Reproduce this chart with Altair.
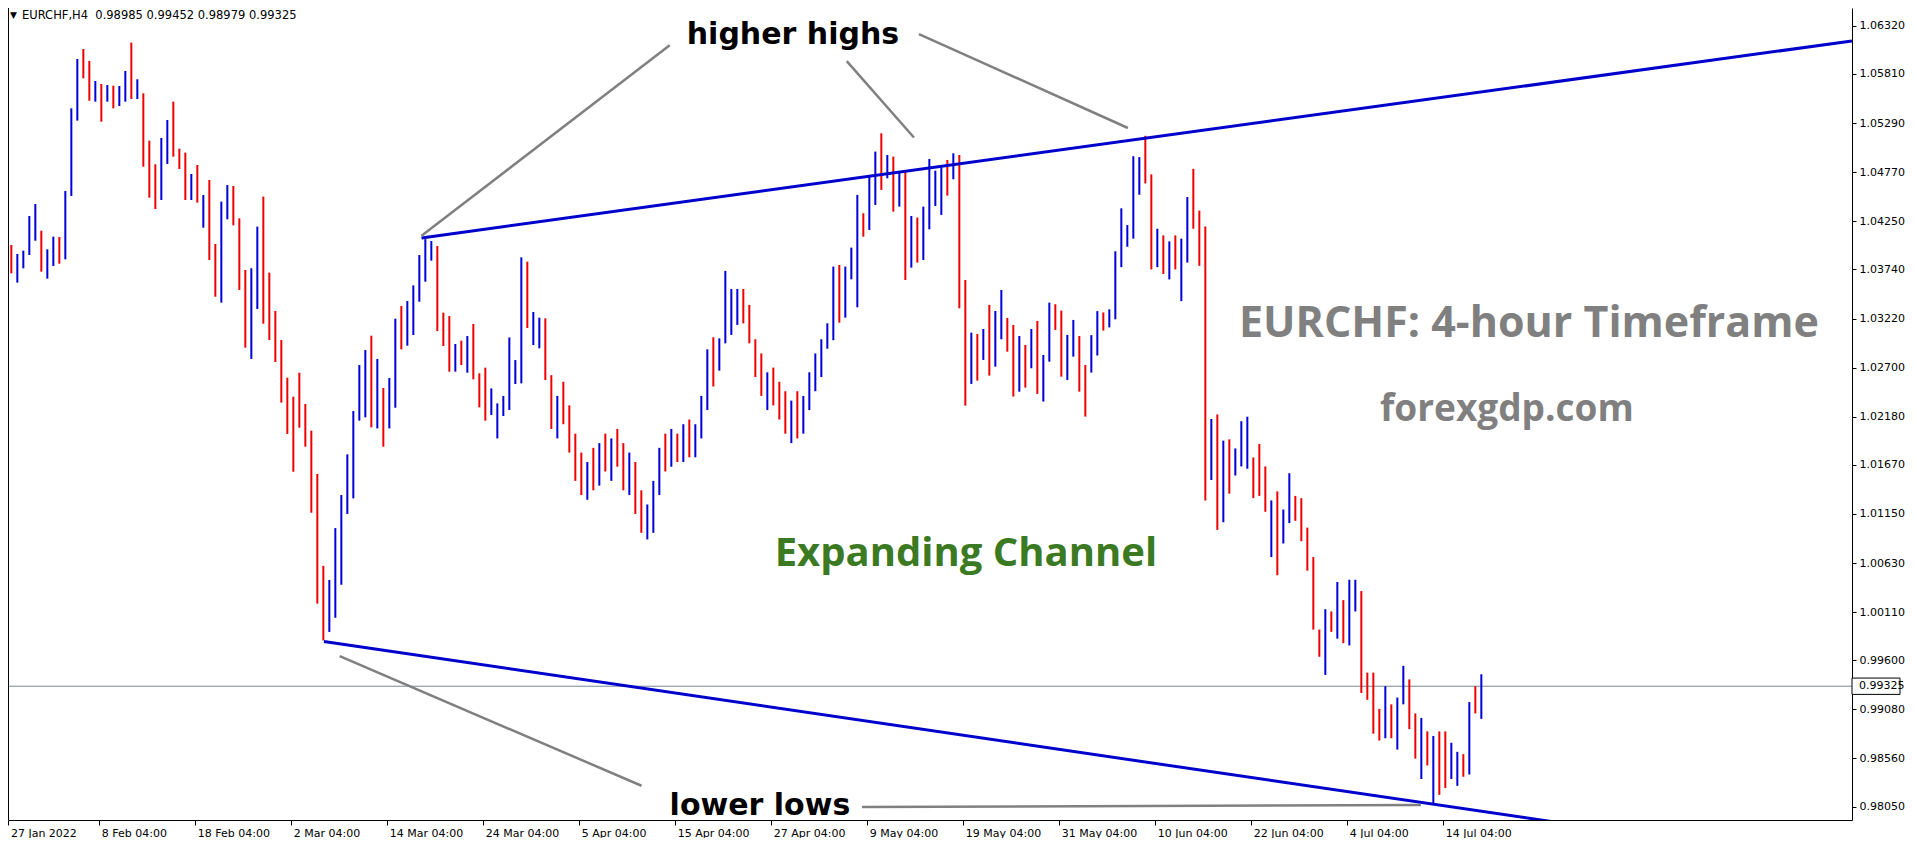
import altair as alt
import numpy as np
import pandas as pd

# ---------------- data (12-hour bars) ----------------
FIRST_OPEN = 1.03840

HIGH = [
    1.03963, 1.03999, 1.03903, 1.03939, 1.04306, 1.04433, 1.04150, 1.03953, 1.04087, 1.04083,
    1.04571, 1.05446, 1.05969, 1.06075, 1.05948, 1.05736, 1.05704, 1.05693, 1.05686, 1.05683,
    1.05842, 1.06142, 1.05754, 1.05605, 1.05104, 1.04853, 1.05132, 1.05323, 1.05517, 1.05019,
    1.04977, 1.04751, 1.04846, 1.04528, 1.04687, 1.04009, 1.04458, 1.04634, 1.04624, 1.04281,
    1.03734, 1.03752, 1.04193, 1.04511, 1.03706, 1.03300, 1.02992, 1.02593, 1.02392, 1.02646,
    1.02315, 1.02032, 1.01573, 1.00600, 1.00450, 1.01000, 1.01350, 1.01781, 1.02240, 1.02727,
    1.02886, 1.03038, 1.02791, 1.02484, 1.02590, 1.03218, 1.03352, 1.03405, 1.03571, 1.03892,
    1.04060, 1.04041, 1.03988, 1.03282, 1.03246, 1.02950, 1.02985, 1.03034, 1.03162, 1.02639,
    1.02699, 1.02480, 1.02321, 1.02399, 1.03020, 1.02780, 1.03868, 1.03822, 1.03289, 1.03229,
    1.03222, 1.02620, 1.02400, 1.02550, 1.02300, 1.02000, 1.01800, 1.01700, 1.01850, 1.01900,
    1.02000, 1.01950, 1.02050, 1.01900, 1.01800, 1.01700, 1.01400, 1.01250, 1.01500, 1.01850,
    1.02000, 1.02050, 1.02000, 1.02100, 1.02150, 1.02100, 1.02400, 1.02894, 1.03021, 1.03010,
    1.03724, 1.03533, 1.03533, 1.03533, 1.03364, 1.03000, 1.02850, 1.02650, 1.02700, 1.02550,
    1.02450, 1.02350, 1.02450, 1.02400, 1.02650, 1.02850, 1.03000, 1.03169, 1.03770, 1.03787,
    1.03770, 1.03971, 1.04529, 1.04335, 1.04741, 1.04988, 1.05182, 1.04952, 1.04935, 1.04765,
    1.04776, 1.04306, 1.04289, 1.04405, 1.04910, 1.04786, 1.04822, 1.04899, 1.04970, 1.04952,
    1.03628, 1.03070, 1.03056, 1.03109, 1.03364, 1.03300, 1.03522, 1.03226, 1.03152, 1.03035,
    1.02940, 1.03109, 1.03194, 1.02834, 1.03388, 1.03371, 1.03304, 1.03046, 1.03205, 1.03035,
    1.02728, 1.03044, 1.03298, 1.03284, 1.03317, 1.03932, 1.04387, 1.04210, 1.04939, 1.04930,
    1.05155, 1.04747, 1.04171, 1.04100, 1.04037, 1.04100, 1.04066, 1.04507, 1.04805, 1.04363,
    1.04195, 1.02156, 1.02204, 1.01926, 1.01940, 1.01844, 1.02132, 1.02180, 1.01748, 1.01892,
    1.01653, 1.01293, 1.01389, 1.01197, 1.01581, 1.01341, 1.01317, 1.01005, 1.00693, 0.99925,
    1.00141, 1.00117, 1.00429, 1.00237, 1.00453, 1.00453, 1.00333, 0.99469, 0.99469, 0.99085,
    0.99325, 0.99133, 0.99205, 0.99541, 0.99397, 0.99037, 0.98989, 0.98846, 0.98798, 0.98846,
    0.98846, 0.98726, 0.98630, 0.98606, 0.99157, 0.99325, 0.99452,
]

LOW = [
    1.03698, 1.03698, 1.03600, 1.03751, 1.03893, 1.04044, 1.03716, 1.03642, 1.03776, 1.03801,
    1.03847, 1.04518, 1.05316, 1.05764, 1.05527, 1.05517, 1.05305, 1.05517, 1.05446, 1.05471,
    1.05517, 1.05545, 1.05545, 1.04828, 1.04500, 1.04380, 1.04475, 1.04857, 1.04934, 1.04804,
    1.04475, 1.04475, 1.04447, 1.04182, 1.03840, 1.03451, 1.03388, 1.04271, 1.04207, 1.03522,
    1.02911, 1.02791, 1.03321, 1.03165, 1.02992, 1.02759, 1.02329, 1.01997, 1.01597, 1.02064,
    1.01862, 1.01163, 1.00200, 0.99810, 0.99900, 1.00050, 1.00400, 1.01149, 1.01315, 1.02138,
    1.02173, 1.02067, 1.02056, 1.01862, 1.02056, 1.02275, 1.02893, 1.02932, 1.03045, 1.03398,
    1.03610, 1.03833, 1.03087, 1.02929, 1.02657, 1.02657, 1.02727, 1.02646, 1.02576, 1.02279,
    1.02138, 1.02198, 1.01950, 1.02187, 1.02251, 1.02526, 1.02533, 1.03119, 1.02939, 1.02904,
    1.02568, 1.02050, 1.01950, 1.02100, 1.01800, 1.01500, 1.01350, 1.01300, 1.01400, 1.01450,
    1.01600, 1.01500, 1.01650, 1.01400, 1.01350, 1.01150, 1.00950, 1.00880, 1.00950, 1.01350,
    1.01600, 1.01650, 1.01700, 1.01700, 1.01750, 1.01750, 1.01950, 1.02250, 1.02500, 1.02668,
    1.02957, 1.03046, 1.03152, 1.03169, 1.02957, 1.02600, 1.02400, 1.02250, 1.02300, 1.02150,
    1.02000, 1.01900, 1.01950, 1.02000, 1.02250, 1.02450, 1.02600, 1.02900, 1.02990, 1.03176,
    1.03229, 1.03635, 1.03339, 1.04087, 1.04158, 1.04423, 1.04582, 1.04705, 1.04352, 1.04405,
    1.03628, 1.03759, 1.03812, 1.03840, 1.04165, 1.04412, 1.04317, 1.04522, 1.04695, 1.03328,
    1.02297, 1.02527, 1.02562, 1.02781, 1.02615, 1.02710, 1.03000, 1.02869, 1.02393, 1.02445,
    1.02488, 1.02693, 1.02421, 1.02340, 1.02763, 1.03099, 1.02604, 1.02569, 1.02816, 1.02445,
    1.02181, 1.02647, 1.02828, 1.03092, 1.03126, 1.03212, 1.03764, 1.03980, 1.04066, 1.04531,
    1.04651, 1.03740, 1.03764, 1.03692, 1.03634, 1.03740, 1.03404, 1.03812, 1.04171, 1.03778,
    1.01293, 1.01509, 1.00981, 1.01062, 1.01365, 1.01557, 1.01653, 1.01629, 1.01317, 1.01341,
    1.01173, 1.00693, 1.00501, 1.00837, 1.01053, 1.01077, 1.00861, 1.00549, 0.99925, 0.99637,
    0.99445, 0.99901, 0.99829, 0.99781, 0.99757, 1.00117, 0.99253, 0.99181, 0.98822, 0.98750,
    0.98774, 0.98774, 0.98654, 0.99133, 0.98870, 0.98558, 0.98342, 0.98486, 0.98078, 0.98174,
    0.98246, 0.98342, 0.98270, 0.98366, 0.98390, 0.99037, 0.98979,
]

CLOSE = [
    1.03939, 1.03811, 1.03882, 1.03893, 1.04052, 1.04069, 1.03741, 1.03857, 1.04069, 1.03910,
    1.04546, 1.05358, 1.05951, 1.05888, 1.05542, 1.05718, 1.05517, 1.05683, 1.05482, 1.05605,
    1.05824, 1.05563, 1.05570, 1.05139, 1.04881, 1.04440, 1.04811, 1.05146, 1.04952, 1.04811,
    1.04511, 1.04723, 1.04475, 1.04511, 1.03875, 1.03699, 1.04422, 1.04422, 1.04246, 1.03557,
    1.03010, 1.03646, 1.04158, 1.03787, 1.03010, 1.02975, 1.02357, 1.02322, 1.02215, 1.02198,
    1.02057, 1.01580, 1.00350, 1.00000, 1.00300, 1.00600, 1.01300, 1.01509, 1.02215, 1.02410,
    1.02851, 1.02357, 1.02763, 1.02074, 1.02304, 1.03186, 1.03098, 1.03222, 1.03550, 1.03875,
    1.03998, 1.03998, 1.03116, 1.03063, 1.02674, 1.02939, 1.02869, 1.03020, 1.02604, 1.02533,
    1.02162, 1.02216, 1.02216, 1.02216, 1.02427, 1.02551, 1.03840, 1.03133, 1.03133, 1.03162,
    1.02586, 1.02150, 1.02300, 1.02200, 1.01900, 1.01600, 1.01450, 1.01650, 1.01500, 1.01800,
    1.01700, 1.01850, 1.01750, 1.01500, 1.01650, 1.01250, 1.01050, 1.01150, 1.01400, 1.01750,
    1.01700, 1.01950, 1.01800, 1.02000, 1.01850, 1.02050, 1.02350, 1.02887, 1.02604, 1.02993,
    1.03311, 1.03434, 1.03452, 1.03205, 1.02993, 1.02700, 1.02500, 1.02550, 1.02400, 1.02250,
    1.02100, 1.02250, 1.02050, 1.02350, 1.02550, 1.02750, 1.02950, 1.02980, 1.03752, 1.03480,
    1.03523, 1.03957, 1.04511, 1.04264, 1.04723, 1.04952, 1.04600, 1.04935, 1.04370, 1.04716,
    1.03646, 1.04052, 1.03823, 1.04388, 1.04688, 1.04705, 1.04794, 1.04758, 1.04952, 1.03522,
    1.02887, 1.02975, 1.02675, 1.03099, 1.02640, 1.03169, 1.03505, 1.03046, 1.02428, 1.03021,
    1.02904, 1.03070, 1.02445, 1.02816, 1.03364, 1.03346, 1.02640, 1.03028, 1.03046, 1.02622,
    1.02576, 1.02948, 1.03260, 1.03116, 1.03308, 1.03884, 1.04052, 1.04147, 1.04915, 1.04915,
    1.04723, 1.04052, 1.04124, 1.03716, 1.04004, 1.03797, 1.04028, 1.04387, 1.04195, 1.04076,
    1.01341, 1.02060, 1.01053, 1.01796, 1.01413, 1.01701, 1.01820, 1.01844, 1.01437, 1.01365,
    1.01197, 1.01197, 1.01173, 1.01173, 1.01557, 1.01101, 1.00885, 1.00741, 0.99949, 0.99757,
    1.00117, 0.99997, 1.00141, 1.00117, 1.00165, 1.00285, 0.99301, 0.99205, 0.98870, 0.98774,
    0.99301, 0.99013, 0.99181, 0.99373, 0.98894, 0.98630, 0.98966, 0.98678, 0.98774, 0.98390,
    0.98270, 0.98438, 0.98582, 0.98558, 0.99133, 0.99085, 0.99325,
]

BARS_PER_GROUP = 3          # each drawn bar stands for three H4 bars
LAST_OHLC = [0.98985, 0.99452, 0.98979, 0.99325]
CURRENT_PRICE = 0.99325

X_LABELS = ["27 Jan 2022", "8 Feb 04:00", "18 Feb 04:00", "2 Mar 04:00", "14 Mar 04:00",
            "24 Mar 04:00", "5 Apr 04:00", "15 Apr 04:00", "27 Apr 04:00", "9 May 04:00",
            "19 May 04:00", "31 May 04:00", "10 Jun 04:00", "22 Jun 04:00", "4 Jul 04:00",
            "14 Jul 04:00"]
X_LABEL_STEP = 48           # H4 bars between labels
PRICE_TICKS = [1.06320, 1.05810, 1.05290, 1.04770, 1.04250, 1.03740, 1.03220, 1.02700,
               1.02180, 1.01670, 1.01150, 1.00630, 1.00110, 0.99600, 0.99080, 0.98560, 0.98050]

# trend lines (H4 bar index, price)
CHANNEL_BARS = [[209.1, 924.3], [160.3, 786.2]]
CHANNEL_PRICES = [[1.04073, 1.06160], [0.99798, 0.97854]]
POINTER_BARS = [[209.1, 333.2], [421.7, 455.3], [457.8, 562.3], [168.2, 319.1], [429.3, 708.8]]
POINTER_PRICES = [[1.04096, 1.06115], [1.05947, 1.05137], [1.06232, 1.05238],
                  [0.99643, 0.98271], [0.98045, 0.98066]]

# annotations (text, H4 bar index, price)
NOTE_TEXTS = ["higher highs", "lower lows", "Expanding Channel", "EURCHF: 4-hour Timeframe", "forexgdp.com"]
NOTE_BARS = [394.8, 378.3, 481.3, 762.8, 751.8]
NOTE_PRICES = [1.06128, 0.97960, 1.00598, 1.03024, 1.02134]

# ---------------- frame ----------------
W, H = 1844, 812
X_MIN, X_MAX = 2.335, 924.335
Y_MIN, Y_MAX = 0.97908, 1.06509

n = len(CLOSE)
assert len(HIGH) == n and len(LOW) == n
OPEN = [FIRST_OPEN] + CLOSE[:-1]
bars_df = pd.DataFrame({
    "bar": [BARS_PER_GROUP * i + 1 for i in range(n)],
    "high": HIGH, "low": LOW, "open": OPEN, "close": CLOSE,
})
bars_df["dir"] = np.where(bars_df["close"] >= bars_df["open"], "up", "down")

xs = alt.Scale(domain=[X_MIN, X_MAX], nice=False, zero=False)
ys = alt.Scale(domain=[Y_MIN, Y_MAX], nice=False, zero=False)

label_values = [max(i * X_LABEL_STEP, X_MIN + 0.2) for i in range(len(X_LABELS))]
label_expr = "[" + ",".join("'" + s + "'" for s in X_LABELS) + "][round(datum.value / %d)]" % X_LABEL_STEP

AX_FONT = "DejaVu Sans"

x_axis = alt.Axis(values=label_values, labelExpr=label_expr, labelAlign="left", labelBaseline="top",
                  labelPadding=2, labelOffset=2, tickSize=5, tickColor="black", domainColor="black",
                  labelColor="black", labelFont=AX_FONT, labelFontSize=11, grid=False, title=None,
                  labelFlush=False, labelOverlap=False, labelBound=False)
y_axis = alt.Axis(orient="right", values=PRICE_TICKS, format=".5f", tickSize=4, labelPadding=3,
                  tickColor="black", domainColor="black", labelColor="black", labelFont=AX_FONT,
                  labelFontSize=11, grid=False, title=None, labelOverlap=False, labelFlush=False,
                  labelBound=False)

bars = alt.Chart(bars_df).mark_rule(strokeWidth=2, clip=True).encode(
    x=alt.X("bar:Q", scale=xs, axis=x_axis, title=None),
    y=alt.Y("low:Q", scale=ys, axis=y_axis, title=None),
    y2="high:Q",
    color=alt.Color("dir:N", scale=alt.Scale(domain=["up", "down"], range=["#0000d8", "#ee0000"]), legend=None),
)

price_line = alt.Chart(pd.DataFrame({"price": [CURRENT_PRICE]})).mark_rule(
    color="#778899", strokeWidth=1).encode(y=alt.Y("price:Q", scale=ys, title=None))

def line_df(bar_pairs, price_pairs):
    rows = []
    for i, (bp, pp) in enumerate(zip(bar_pairs, price_pairs)):
        for b, p in zip(bp, pp):
            rows.append({"id": i, "bar": b, "price": p})
    return pd.DataFrame(rows)

channel = alt.Chart(line_df(CHANNEL_BARS, CHANNEL_PRICES)).mark_line(
    color="#0000cc", strokeWidth=3, clip=True).encode(
    x=alt.X("bar:Q", scale=xs, title=None), y=alt.Y("price:Q", scale=ys, title=None), detail="id:N")

pointers = alt.Chart(line_df(POINTER_BARS, POINTER_PRICES)).mark_line(
    color="#808080", strokeWidth=2.5, clip=True).encode(
    x=alt.X("bar:Q", scale=xs, title=None), y=alt.Y("price:Q", scale=ys, title=None), detail="id:N")

notes_df = pd.DataFrame({"text": NOTE_TEXTS, "bar": NOTE_BARS, "price": NOTE_PRICES})

def note(idx, **kw):
    return alt.Chart(notes_df.iloc[[idx]]).mark_text(align="center", baseline="alphabetic", **kw).encode(
        x=alt.X("bar:Q", scale=xs, title=None), y=alt.Y("price:Q", scale=ys, title=None), text="text:N")

n_hh = note(0, font="DejaVu Sans", fontSize=30, fontWeight="bold", color="#000000")
n_ll = note(1, font="DejaVu Sans", fontSize=30, fontWeight="bold", color="#000000")
n_ec = note(2, font="Open Sans", fontSize=40, fontWeight="bold", color="#3b7a23")
n_tf = note(3, font="Open Sans", fontSize=43, fontWeight="bold", color="#808080")
n_fx = note(4, font="Open Sans", fontSize=37, fontWeight="bold", color="#808080")

header_text = "EURCHF,H4\u00a0\u00a0" + " ".join("%.5f" % v for v in LAST_OHLC)
header = alt.Chart(pd.DataFrame({"t": [header_text]})).mark_text(
    align="left", baseline="alphabetic", font=AX_FONT, fontSize=11.5, color="black").encode(
    x=alt.value(14), y=alt.value(11), text="t:N")
tri = alt.Chart(pd.DataFrame({"t": ["\u25bc"]})).mark_text(
    align="left", baseline="alphabetic", font=AX_FONT, fontSize=9, color="black").encode(
    x=alt.value(2), y=alt.value(10), text="t:N")

frame = alt.Chart(pd.DataFrame({"a": [0]})).mark_rule(color="black", strokeWidth=1).encode(
    x=alt.value(0.5), y=alt.value(0), y2=alt.value(H))

cur_df = pd.DataFrame({"price": [CURRENT_PRICE], "t": ["%.5f" % CURRENT_PRICE]})
cur_box = alt.Chart(cur_df).mark_point(
    shape="M-1,-0.34L1,-0.34L1,0.34L-1,0.34Z", size=2304, filled=True, fill="white",
    stroke="#000000", strokeWidth=1, opacity=1).encode(
    x=alt.value(W + 24), y=alt.Y("price:Q", scale=ys, title=None))
cur_txt = alt.Chart(cur_df).mark_text(
    align="left", baseline="middle", font=AX_FONT, fontSize=11, color="black").encode(
    x=alt.value(W + 7), y=alt.Y("price:Q", scale=ys, title=None), text="t:N")

chart = alt.layer(
    price_line, bars, channel, pointers, n_hh, n_ll, n_ec, n_tf, n_fx, header, tri, frame, cur_box, cur_txt
).properties(
    width=W, height=H, background="white",
    autosize=alt.AutoSizeParams(type="none"),
    padding={"left": 0, "top": 0, "right": 56, "bottom": 18},
).configure_view(stroke=None)

chart.save("out.html", embed_options={"renderer": "svg", "actions": False})
